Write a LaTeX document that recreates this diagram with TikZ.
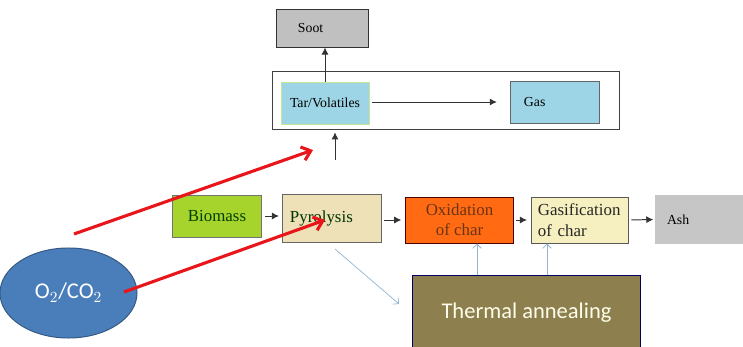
\documentclass[tikz,border=0pt]{standalone}
\usepackage{fontspec}
\setmainfont{Liberation Serif}
\newfontfamily\calib{Carlito}
\usepackage{xcolor}
\usetikzlibrary{arrows.meta,shapes.geometric}

\definecolor{sootgray}{HTML}{C0C0C0}
\definecolor{ashgray}{HTML}{C6C6C6}
\definecolor{tarblue}{HTML}{9DD5E6}
\definecolor{limegreen}{HTML}{A6D42C}
\definecolor{wheat}{HTML}{EEE1B7}
\definecolor{paleyellow}{HTML}{F6EFC0}
\definecolor{orangefill}{HTML}{FF6A12}
\definecolor{oxtext}{HTML}{6A3414}
\definecolor{olive}{HTML}{8D7F4E}
\definecolor{ellblue}{HTML}{4A7EBB}
\definecolor{linkblue}{HTML}{92B4D2}
\definecolor{redarrow}{HTML}{E8151B}

\begin{document}
\begin{tikzpicture}[x=0.025cm, y=-0.025cm,
  box/.style={draw=#1, line width=0.7pt, inner sep=0pt},
  serif12/.style={font=\fontsize{12}{14.5}\selectfont},
  serif10/.style={font=\fontsize{9.8}{12}\selectfont},
  flow/.style={-{Latex[length=5pt,width=5pt]}, line width=0.7pt, black!80},
  heat/.style={-{Straight Barb[length=3pt,width=6pt]}, line width=0.6pt, linkblue},
  feed/.style={-{Straight Barb[length=6pt,width=10pt,line width=2.2pt]}, line width=2.2pt, redarrow}]
  \useasboundingbox (0,0) rectangle (743,347);

  % volatiles
  \node[box=black!80, fill=sootgray, serif10, minimum width=2.275cm, minimum height=0.95cm,
        text width=1.225cm, inner xsep=0.525cm, align=left] (soot) at (322.5,28) {Soot};
  \node[box=black!75, minimum width=8.65cm, minimum height=1.425cm] (vbox) at (446,100.5) {};
  \node[box=yellow!50!green!45, fill=tarblue, serif10, minimum width=2.2cm, minimum height=1.05cm] (tar) at (325,103) {Tar/Volatiles};
  \node[box=black!60, fill=tarblue, serif10, minimum width=2.225cm, minimum height=1.05cm,
        text width=1.525cm, inner xsep=0.35cm, align=left] (gas) at (554.5,102) {Gas};

  % char route
  \node[box=black!55, fill=limegreen, serif12, text=green!25!black, minimum width=2.2cm, minimum height=1.05cm] (biomass) at (217,216) {Biomass};
  \node[box=black!60, fill=wheat, serif12, text=green!20!black, minimum width=2.45cm, minimum height=1.2cm,
        text width=2.1cm, inner xsep=0.175cm, align=left] (pyro) at (332,218) {Pyrolysis};
  \node[box=black!70!red, fill=orangefill, serif12, text=oxtext, minimum width=2.675cm, minimum height=1.15cm,
        align=center] (oxid) at (459.5,220) {Oxidation\\of char};
  \node[box=black!65, fill=paleyellow, serif12, text=black!85, minimum width=2.425cm, minimum height=1.15cm,
        text width=2.075cm, inner xsep=0.175cm, align=left] (gasif) at (579.5,220) {Gasification\\of char};
  \node[fill=ashgray, serif10, minimum width=2.2cm, minimum height=1.225cm, inner sep=0pt,
        text width=1.6cm, inner xsep=0.3cm, align=left] (ash) at (699,219.5) {Ash};
  \node[box=blue!40!black, fill=olive, text=yellow!8, minimum width=5.675cm, minimum height=1.85cm,
        font=\calib\fontsize{16}{18}\selectfont] (anneal) at (526.5,313) {Thermal annealing};
  \node[ellipse, draw=ellblue!70!black, line width=0.7pt, fill=ellblue, text=white, inner sep=0pt,
        minimum width=3.425cm, minimum height=2.25cm, font=\calib\fontsize{16}{18}\selectfont] (oxy) at (68.5,293) {O$_2$/CO$_2$};

  \coordinate (vin) at (335,160);
  \coordinate (pyrodiag) at (335,249);
  \coordinate (annealdiag) at (399,304);
  \coordinate (r1a) at (74,234);
  \coordinate (r1b) at (313,150);
  \coordinate (r2a) at (124,292);
  \coordinate (r2b) at (325,220);

  \draw[flow] (tar.north) -- (tar.north |- soot.south);
  \draw[flow, shorten >=9pt, shorten <=1.5pt] (tar.east |- gas.west) -- (gas.west);
  \draw[flow, shorten >=2pt] (vin) -- (vin |- vbox.south);
  \draw[flow, shorten <=2.5pt, shorten >=2.5pt] (biomass.east) -- (biomass.east -| pyro.west);
  \draw[flow, shorten <=2pt, shorten >=3pt] (pyro.east |- oxid.west) -- (oxid.west);
  \draw[flow, shorten <=2pt, shorten >=2.5pt] (oxid.east) -- (gasif.west);
  \draw[flow, shorten <=2pt, shorten >=1pt] (gasif.east) -- (ash.west);

  \draw[heat] (anneal.north -| 477,0) -- (oxid.south -| 477,0);
  \draw[heat] (anneal.north -| 547,0) -- (gasif.south -| 547,0);
  \draw[heat, line width=0.5pt] (pyrodiag) -- (annealdiag);

  \draw[feed] (r1a) -- (r1b);
  \draw[feed] (r2a) -- (r2b);
\end{tikzpicture}
\end{document}
